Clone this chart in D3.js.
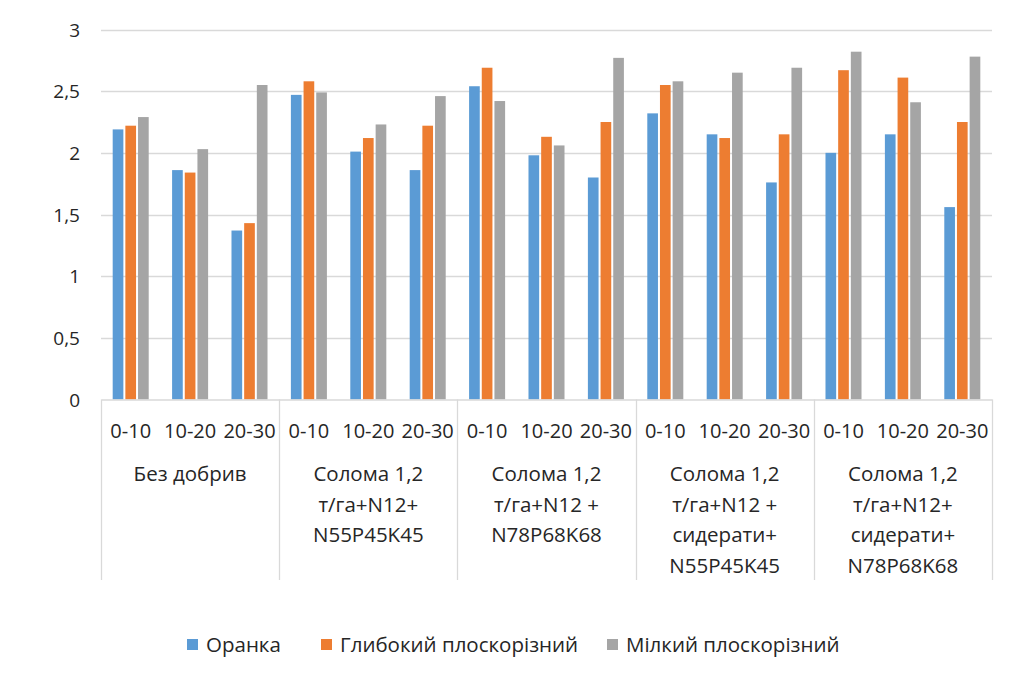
<!DOCTYPE html>
<html>
<head>
<meta charset="utf-8">
<script src="https://cdn.jsdelivr.net/npm/d3@7"></script>
<style>
  html, body { margin: 0; padding: 0; background: #fff; }
  svg { display: block; font-family: "Open Sans", "Noto Sans", sans-serif; }
</style>
</head>
<body>
<svg id="chart" width="1011" height="674"></svg>
<script>
// Treatments (outer category level), each split into soil depths (inner level)
const treatments = [
  ["Без добрив"],
  ["Солома 1,2", "т/га+N12+", "N55P45K45"],
  ["Солома 1,2", "т/га+N12 +", "N78P68K68"],
  ["Солома 1,2", "т/га+N12 +", "сидерати+", "N55P45K45"],
  ["Солома 1,2", "т/га+N12+", "сидерати+", "N78P68K68"]
];
const depths = ["0-10", "10-20", "20-30"];

// Tillage systems (series)
const seriesNames = ["Оранка", "Глибокий плоскорізний", "Мілкий плоскорізний"];
const seriesColors = ["#5B9BD5", "#ED7D31", "#A5A5A5"];

// Values per treatment × depth, in the order of treatments, then depths
const oranka   = [2.19, 1.86, 1.37, 2.47, 2.01, 1.86, 2.54, 1.98, 1.80, 2.32, 2.15, 1.76, 2.00, 2.15, 1.56];
const glybokyi = [2.22, 1.84, 1.43, 2.58, 2.12, 2.22, 2.69, 2.13, 2.25, 2.55, 2.12, 2.15, 2.67, 2.61, 2.25];
const milkyi   = [2.29, 2.03, 2.55, 2.49, 2.23, 2.46, 2.42, 2.06, 2.77, 2.58, 2.65, 2.69, 2.82, 2.41, 2.78];
const seriesValues = [oranka, glybokyi, milkyi];

const yTicks = [0, 0.5, 1, 1.5, 2, 2.5, 3];

const svg = d3.select("#chart");
const textColor = "#262626";
const gridColor = "#D9D9D9";

const plot = { left: 101, right: 992, top: 29.5, bottom: 399.5 };

// Flat list of categories: one per treatment × depth
const cats = d3.range(treatments.length * depths.length);

const x0 = d3.scaleBand()
  .domain(cats)
  .range([plot.left, plot.right])
  .paddingInner(0.36)
  .paddingOuter(0.18);

const x1 = d3.scaleBand()
  .domain(d3.range(seriesNames.length))
  .range([0, x0.bandwidth()]);

const y = d3.scaleLinear()
  .domain([0, 3])
  .range([plot.bottom, plot.top]);

// Horizontal gridlines
svg.append("g")
  .selectAll("line")
  .data(yTicks.filter(d => d > 0))
  .join("line")
  .attr("x1", plot.left)
  .attr("x2", plot.right)
  .attr("y1", d => Math.round(y(d)) + 0.5)
  .attr("y2", d => Math.round(y(d)) + 0.5)
  .attr("stroke", gridColor)
  .attr("stroke-width", 1.3);

// Y axis labels
const yAxis = svg.append("g")
  .attr("transform", `translate(${plot.left - 21},0)`)
  .call(d3.axisLeft(y)
    .tickValues(yTicks)
    .tickSize(0)
    .tickPadding(0)
    .tickFormat(d => String(d).replace(".", ",")));
yAxis.select(".domain").remove();
yAxis.selectAll("text")
  .attr("fill", textColor)
  .attr("font-size", 19)
  .attr("font-family", "'Open Sans', sans-serif")
  .attr("dy", "0.35em");

// Bars
const catGroups = svg.append("g")
  .selectAll("g")
  .data(cats)
  .join("g")
  .attr("transform", d => `translate(${x0(d)},0)`);

catGroups.selectAll("rect")
  .data(c => seriesValues.map((vals, s) => ({ s, v: vals[c] })))
  .join("rect")
  .attr("x", d => x1(d.s) + 1)
  .attr("width", x1.bandwidth() - 2)
  .attr("y", d => y(d.v))
  .attr("height", d => y(0) - y(d.v))
  .attr("fill", d => seriesColors[d.s]);

// Category axis: inner level (depths)
const xAxis = svg.append("g")
  .attr("transform", `translate(0,${plot.bottom})`)
  .call(d3.axisBottom(x0)
    .tickSize(0)
    .tickPadding(0)
    .tickFormat(i => depths[i % depths.length]));
xAxis.select(".domain")
  .attr("stroke", gridColor)
  .attr("stroke-width", 1.3);
xAxis.selectAll("text")
  .attr("fill", textColor)
  .attr("font-size", 20)
  .attr("font-family", "'Open Sans', sans-serif")
  .attr("dy", 0)
  .attr("y", 38);

// Category axis: outer level separators and treatment labels
const groupStep = x0.step() * depths.length;
const bounds = d3.range(treatments.length + 1).map(i => plot.left + i * groupStep);

svg.append("g")
  .selectAll("line")
  .data(bounds)
  .join("line")
  .attr("x1", d => Math.round(d) + 0.5)
  .attr("x2", d => Math.round(d) + 0.5)
  .attr("y1", plot.bottom)
  .attr("y2", 580)
  .attr("stroke", gridColor)
  .attr("stroke-width", 1.3);

const outer = svg.append("g")
  .selectAll("text")
  .data(treatments)
  .join("text")
  .attr("x", (d, i) => plot.left + (i + 0.5) * groupStep)
  .attr("y", 481)
  .attr("text-anchor", "middle")
  .attr("fill", textColor)
  .attr("font-size", 20.5);

outer.selectAll("tspan")
  .data(d => d)
  .join("tspan")
  .attr("x", function () { return d3.select(this.parentNode).attr("x"); })
  .attr("dy", (d, i) => i === 0 ? 0 : 30.5)
  .text(d => d);

// Legend
const legendItems = [
  { s: 0, x: 187 },
  { s: 1, x: 321 },
  { s: 2, x: 607 }
];
const legend = svg.append("g")
  .selectAll("g")
  .data(legendItems)
  .join("g")
  .attr("transform", d => `translate(${d.x},0)`);

legend.append("rect")
  .attr("x", 0)
  .attr("y", 639)
  .attr("width", 11)
  .attr("height", 11)
  .attr("fill", d => seriesColors[d.s]);

legend.append("text")
  .attr("x", 19)
  .attr("y", 652)
  .attr("fill", textColor)
  .attr("font-size", 20.5)
  .text(d => seriesNames[d.s]);
</script>
</body>
</html>
